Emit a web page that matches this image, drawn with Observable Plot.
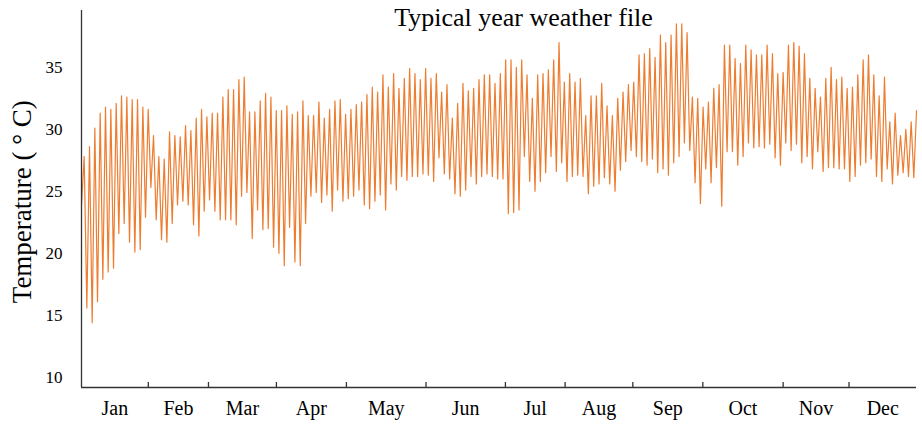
<!DOCTYPE html>
<html><head><meta charset="utf-8">
<script src="https://cdn.jsdelivr.net/npm/d3@7"></script>
<script src="https://cdn.jsdelivr.net/npm/@observablehq/plot@0.6"></script>
<style>body{margin:0;background:#fff}</style>
</head><body><div id="chart"></div>
<script>
const title = "Typical year weather file";
const yLabel = "Temperature ( ° C)";
const months = ["Jan","Feb","Mar","Apr","May","Jun","Jul","Aug","Sep","Oct","Nov","Dec"];
// month boundaries (day of year) as placed on the reference axis
const monthEdges = [29.2, 55.5, 85.2, 115.8, 150.6, 185.3, 211.4, 241.0, 271.6, 306.7, 335.5];
const yTicks = [10, 15, 20, 25, 30, 35];
const startTemp = 23.9;
// successive peaks of the temperature trace (°C)
const highs = [
 27.8, 28.6, 30.1, 31.3, 31.8, 31.6, 32.1, 32.7, 32.6, 32.4, 32.4, 31.8, 31.6, 29.5, 27.8, 27.6, 29.8, 29.5, 29.4, 30.3, 29.9, 30.9, 31.6, 31.0, 31.3, 31.3,
 32.6, 33.2, 33.2, 34.0, 34.2, 31.4, 31.4, 32.3, 32.9, 32.6, 31.5, 31.5, 31.9, 31.2, 31.4, 32.3, 31.1, 31.1, 32.2, 30.9, 31.6, 32.3, 32.4, 31.2, 31.6, 32.0,
 32.2, 32.8, 33.4, 33.0, 34.4, 33.4, 34.5, 33.3, 34.1, 34.9, 34.5, 34.0, 34.9, 34.1, 34.5, 33.0, 33.6, 30.9, 32.1, 33.7, 33.1, 33.3, 34.0, 34.4, 34.4, 33.7, 34.5,
 35.6, 35.6, 35.0, 35.6, 34.4, 32.5, 34.4, 34.5, 34.8, 35.6, 37.0, 33.8, 34.5, 33.8, 34.1, 31.1, 32.7, 32.7, 33.7, 31.9, 31.1, 32.5, 33.0, 33.6, 33.8, 36.0, 36.1,
 36.5, 35.8, 37.6, 37.0, 37.6, 38.5, 38.5, 37.8, 32.6, 32.5, 31.8, 32.2, 33.3, 33.6, 36.8, 36.8, 35.7, 35.3, 36.8, 36.4, 36.0, 36.0, 36.8, 36.1, 34.5,
 34.6, 36.8, 37.0, 36.7, 36.1, 34.1, 33.3, 32.6, 34.1, 35.0, 34.0, 34.2, 33.3, 33.4, 34.4, 35.6, 36.0, 34.4, 32.7, 34.2, 30.6, 31.3, 29.5, 30.0, 30.6, 31.5
];
// successive troughs of the temperature trace (°C)
const lows = [
 15.6, 14.4, 16.1, 17.9, 18.5, 18.8, 21.6, 22.4, 20.9, 20.1, 20.3, 22.9, 25.3, 22.7, 21.1, 20.9, 22.4, 23.9, 24.2, 23.9, 22.3, 21.4, 23.4, 24.3, 23.4, 22.7,
 22.7, 22.7, 22.3, 24.6, 24.9, 21.2, 23.5, 21.9, 22.0, 20.5, 20.0, 19.0, 22.1, 19.3, 19.0, 22.4, 24.6, 24.9, 24.1, 24.7, 23.4, 25.1, 24.2, 24.4, 24.6, 25.1,
 23.9, 23.6, 24.2, 24.7, 23.5, 25.6, 25.1, 26.2, 25.9, 26.2, 26.2, 26.4, 26.3, 25.8, 27.7, 26.4, 26.0, 24.8, 24.6, 25.1, 26.2, 25.6, 26.2, 26.4, 26.2, 26.0, 26.0,
 23.2, 23.3, 23.5, 27.8, 25.8, 25.0, 25.8, 26.5, 27.8, 26.6, 27.3, 25.8, 26.2, 26.3, 26.2, 24.8, 25.4, 25.6, 26.1, 25.6, 25.0, 26.7, 27.4, 28.3, 27.8, 27.4, 27.1,
 27.6, 26.5, 26.8, 26.3, 27.3, 27.8, 28.9, 28.3, 25.7, 24.0, 26.8, 25.7, 26.9, 23.8, 28.2, 28.2, 27.1, 27.8, 28.9, 28.5, 28.6, 28.5, 28.8, 27.7, 27.1,
 28.9, 28.3, 28.8, 27.3, 27.8, 26.8, 28.2, 26.6, 26.9, 26.9, 26.8, 26.8, 25.8, 26.2, 27.1, 27.3, 27.6, 26.2, 25.8, 26.8, 25.6, 26.3, 26.5, 26.2, 26.1
];

const temps = [startTemp];
highs.forEach((h, k) => { temps.push(h); if (k < lows.length) temps.push(lows[k]); });
const step = 365 / (temps.length - 1);
const series = temps.map((t, j) => ({day: j * step, temp: t}));
const bounds = [0, ...monthEdges, 365];
const monthTable = months.map((m, i) => ({label: m, mid: (bounds[i] + bounds[i + 1]) / 2}));

const yMin = 9.18, yMax = 39.58;
const axisColor = "#333";
const chart = Plot.plot({
  width: 922, height: 425,
  marginLeft: 81, marginRight: 6, marginTop: 10, marginBottom: 38,
  style: {fontFamily: "'Liberation Serif', 'Times New Roman', serif", background: "#fff", color: "#000"},
  x: {domain: [0, 365], axis: null},
  y: {domain: [yMin, yMax], axis: null},
  marks: [
    Plot.line(series, {x: "day", y: "temp", stroke: "#ED7D31", strokeWidth: 1.2}),
    Plot.ruleY([yMin], {stroke: axisColor, strokeWidth: 1.3}),
    Plot.ruleX([0], {stroke: axisColor, strokeWidth: 1.3}),
    Plot.ruleX(monthEdges, {x: d => d, y1: yMin, y2: yMin, insetBottom: 5, stroke: axisColor, strokeWidth: 1.3}),
    Plot.axisY(yTicks, {tickSize: 0, tickPadding: 19, fontSize: 17, label: null}),
    Plot.text(monthTable, {x: "mid", text: "label", frameAnchor: "bottom", lineAnchor: "middle", dy: 21, fontSize: 20}),
    Plot.text([title], {frameAnchor: "top", lineAnchor: "middle", textAnchor: "middle", dx: 24.5, dy: 7.4, fontSize: 26}),
    Plot.text([yLabel], {frameAnchor: "left", rotate: -90, textAnchor: "middle", lineAnchor: "middle", dx: -59.6, dy: 2.7, fontSize: 27})
  ]
});
document.getElementById("chart").appendChild(chart);
</script>
</body></html>
